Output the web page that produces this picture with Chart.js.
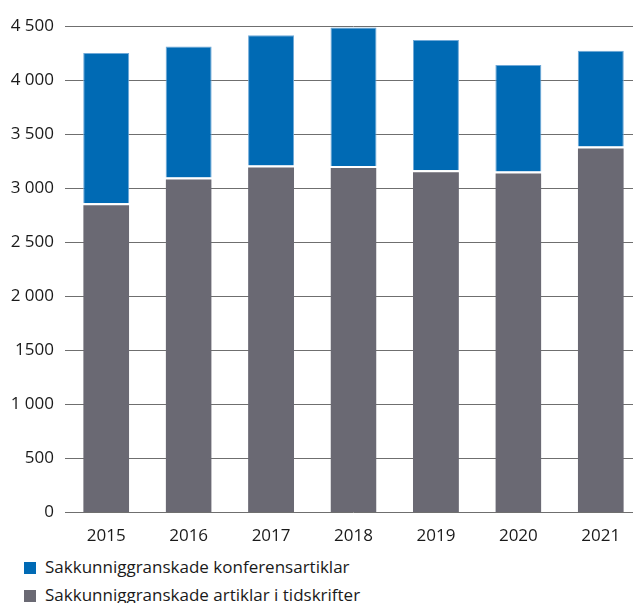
<!DOCTYPE html>
<html>
<head>
<meta charset="utf-8">
<script src="https://cdn.jsdelivr.net/npm/chart.js@4"></script>
<style>
  html, body { margin: 0; padding: 0; overflow: hidden; background: #fff; }
  body { width: 633px; height: 603px; position: relative; font-family: "Open Sans", sans-serif; }
  #wrap { position: absolute; left: 0; top: 0; width: 642px; height: 551px; }
  .legend { position: absolute; left: 24px; color: #1a1a1a; font-size: 17px; line-height: 22px; white-space: nowrap; }
  .legend span.box { display: inline-block; width: 12px; height: 12px; margin-right: 9px; vertical-align: -1px; }
</style>
</head>
<body>
<div id="wrap"><canvas id="chart"></canvas></div>
<div class="legend" style="top:556px"><span class="box" style="background:#006ab4"></span>Sakkunniggranskade konferensartiklar</div>
<div class="legend" style="top:584px"><span class="box" style="background:#6a6973"></span>Sakkunniggranskade artiklar i tidskrifter</div>
<script>
// Data
const years = ['2015', '2016', '2017', '2018', '2019', '2020', '2021'];
const journalArticles = [2860, 3100, 3210, 3205, 3165, 3155, 3385];
const conferenceArticles = [1390, 1210, 1205, 1280, 1205, 985, 885];
const yTicks = ['0', '500', '1 000', '1500', '2 000', '2 500', '3 000', '3 500', '4 000', '4 500'];

const labelFont = { family: '"Open Sans", sans-serif', size: 17 };

new Chart(document.getElementById('chart'), {
    type: 'bar',
    data: {
        labels: years,
        datasets: [{
            label: 'Sakkunniggranskade artiklar i tidskrifter',
            data: journalArticles,
            backgroundColor: '#6a6973',
            borderColor: '#ffffff',
            borderWidth: { top: 2 },
            borderSkipped: 'bottom'
        }, {
            label: 'Sakkunniggranskade konferensartiklar',
            data: conferenceArticles,
            backgroundColor: '#006ab4',
            borderColor: '#6fa9d8',
            borderWidth: 1,
            borderSkipped: 'bottom'
        }]
    },
    options: {
        responsive: true,
        maintainAspectRatio: false,
        animation: false,
        layout: { padding: { top: 26, right: 0, left: 0, bottom: 0 } },
        datasets: { bar: { categoryPercentage: 1, barPercentage: 0.558 } },
        scales: {
            x: {
                stacked: true,
                grid: { display: false },
                border: { display: false },
                ticks: { color: '#1a1a1a', font: labelFont, padding: 5 }
            },
            y: {
                stacked: true,
                min: 0,
                max: 4500,
                afterFit: s => { s.width = 65; },
                grid: { color: '#6f6f6f', lineWidth: 1, drawTicks: false },
                border: { display: false },
                ticks: {
                    stepSize: 500,
                    color: '#1a1a1a',
                    font: labelFont,
                    padding: 11,
                    callback: v => yTicks[v / 500]
                }
            }
        },
        plugins: {
            legend: { display: false },
            tooltip: { enabled: false }
        }
    }
});
</script>
</body>
</html>
